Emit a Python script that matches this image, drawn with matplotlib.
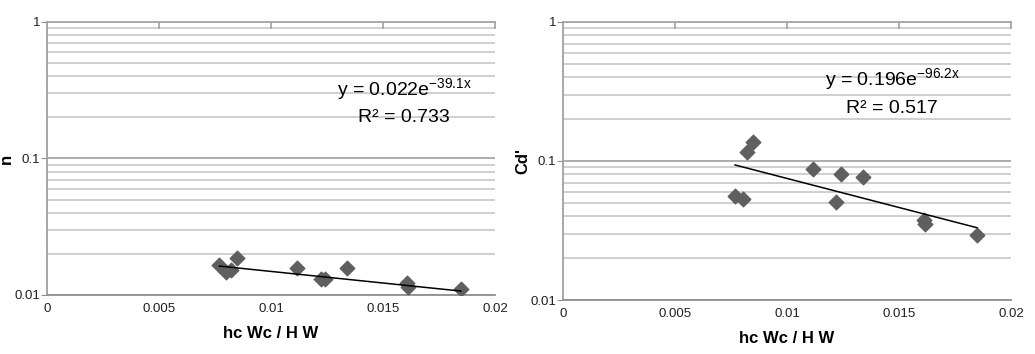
import numpy as np
import matplotlib.pyplot as plt
from matplotlib.ticker import FixedLocator, LogLocator, NullFormatter

plt.rcParams['font.family'] = ['Liberation Sans Narrow', 'Liberation Sans', 'DejaVu Sans']

# data
x_n = [0.0077, 0.0080, 0.0082, 0.00848, 0.01115, 0.01222, 0.01242, 0.01338, 0.01606, 0.01612, 0.01847]
n_vals = [0.0166, 0.0148, 0.0152, 0.0188, 0.0158, 0.0130, 0.0132, 0.0158, 0.0122, 0.0115, 0.0110]

x_cd = [0.00768, 0.00802, 0.00821, 0.0085, 0.01118, 0.01219, 0.01241, 0.01338, 0.0161, 0.01614, 0.01848]
cd_vals = [0.0563, 0.0533, 0.1167, 0.1377, 0.0881, 0.0507, 0.0802, 0.0767, 0.0376, 0.0350, 0.0293]

# exponential trendlines y = a * exp(b * x)
fit_n = (0.022, -39.1)
fit_cd = (0.196, -96.2)
r2_n = 0.733
r2_cd = 0.517

x_ticks = [0, 0.005, 0.01, 0.015, 0.02]
x_labels = ['0', '0.005', '0.01', '0.015', '0.02']
y_ticks = [0.01, 0.1, 1]
y_labels = ['0.01', '0.1', '1']

fig = plt.figure(figsize=(10.35, 3.54), dpi=100)
ax1 = fig.add_axes([0.0454, 0.1667, 0.4329, 0.7712])
ax2 = fig.add_axes([0.544, 0.1525, 0.4328, 0.7854])


def draw(ax, xs, ys, fit, r2, ylabel, eq_pos, eq_text):
    ax.set_yscale('log')
    ax.set_xlim(0, 0.02)
    ax.set_ylim(0.01, 1)
    ax.yaxis.set_minor_locator(LogLocator(base=10, subs=np.arange(2, 10)))
    ax.yaxis.set_minor_formatter(NullFormatter())
    ax.grid(True, which='minor', axis='y', color='#cccccc', lw=1.3)
    ax.grid(True, which='major', axis='y', color='#a6a6a6', lw=1.3)
    ax.axhline(1, color='#a6a6a6', lw=1.3, clip_on=False)
    ax.set_axisbelow(True)
    ax.tick_params(axis='y', which='minor', length=0)
    ax.tick_params(axis='y', which='major', length=4, color='#909090', labelsize=9.5,
                   pad=1, labelcolor='#202020')
    ax.tick_params(axis='x', length=0, labelsize=9.5, pad=6, labelcolor='#202020')
    ax.yaxis.set_major_locator(FixedLocator(y_ticks))
    ax.set_yticklabels(y_labels)
    ax.set_xticks(x_ticks)
    ax.set_xticklabels(x_labels)
    for s in ['top', 'right']:
        ax.spines[s].set_visible(False)
    ax.spines['left'].set_color('#a0a0a0')
    ax.spines['left'].set_linewidth(1.3)
    ax.spines['bottom'].set_color('#909090')
    ax.spines['bottom'].set_linewidth(1.3)
    # small box at the top with tick marks
    for xv in x_ticks[1:]:
        ax.plot([xv, xv], [0.9, 1.0], color='#a6a6a6', lw=1.3, clip_on=False)

    ax.scatter(xs, ys, marker='D', s=55, color='#5f5f5f', zorder=3)
    xl = np.linspace(min(xs), max(xs), 50)
    ax.plot(xl, fit[0] * np.exp(fit[1] * xl), color='black', lw=1.1, zorder=4)

    ax.set_xlabel('hc Wc / H W', fontsize=12, fontweight='bold', labelpad=8)
    ax.set_ylabel(ylabel, fontsize=12, fontweight='bold', labelpad=0)
    ax.text(eq_pos[0], eq_pos[1], eq_text, fontsize=14, ha='center', va='center')
    ax.text(eq_pos[0], eq_pos[2], 'R² = %.3f' % r2, fontsize=14, ha='center', va='center')


draw(ax1, x_n, n_vals, fit_n, r2_n, 'n', (0.01594, 0.318, 0.201),
     r'y = 0.022e$^{\mathregular{-39.1x}}$')
draw(ax2, x_cd, cd_vals, fit_cd, r2_cd, "Cd'", (0.01469, 0.383, 0.240),
     r'y = 0.196e$^{\mathregular{-96.2x}}$')

plt.savefig('out.png', dpi=100)
